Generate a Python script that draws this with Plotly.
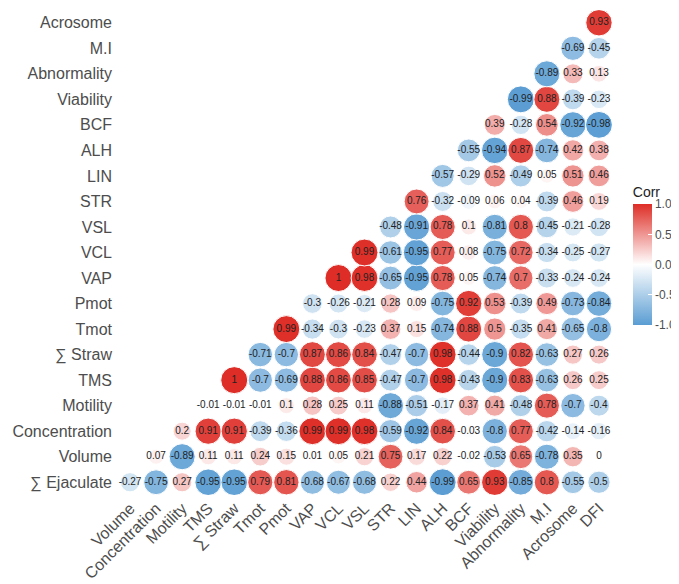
import plotly.graph_objects as go

variables = ["∑ Ejaculate", "Volume", "Concentration", "Motility", "TMS", "∑ Straw",
             "Tmot", "Pmot", "VAP", "VCL", "VSL", "STR", "LIN", "ALH", "BCF",
             "Viability", "Abnormality", "M.I", "Acrosome", "DFI"]

row_labels = variables[:-1]   # y axis, bottom to top
col_labels = variables[1:]    # x axis, left to right

# Lower-triangle correlations: each row lists values against the variables after it
r_ejaculate = [-0.27, -0.75, 0.27, -0.95, -0.95, 0.79, 0.81, -0.68, -0.67, -0.68, 0.22, 0.44, -0.99, 0.65, 0.93, -0.85, 0.8, -0.55, -0.5]
r_volume = [0.07, -0.89, 0.11, 0.11, 0.24, 0.15, 0.01, 0.05, 0.21, 0.75, 0.17, 0.22, -0.02, -0.53, 0.65, -0.78, 0.35, 0]
r_concentration = [0.2, 0.91, 0.91, -0.39, -0.36, 0.99, 0.99, 0.98, -0.59, -0.92, 0.84, -0.03, -0.8, 0.77, -0.42, -0.14, -0.16]
r_motility = [-0.01, -0.01, -0.01, 0.1, 0.28, 0.25, 0.11, -0.88, -0.51, -0.17, 0.37, 0.41, -0.48, 0.78, -0.7, -0.4]
r_tms = [1, -0.7, -0.69, 0.88, 0.86, 0.85, -0.47, -0.7, 0.98, -0.43, -0.9, 0.83, -0.63, 0.26, 0.25]
r_straw = [-0.71, -0.7, 0.87, 0.86, 0.84, -0.47, -0.7, 0.98, -0.44, -0.9, 0.82, -0.63, 0.27, 0.26]
r_tmot = [0.99, -0.34, -0.3, -0.23, 0.37, 0.15, -0.74, 0.88, 0.5, -0.35, 0.41, -0.65, -0.8]
r_pmot = [-0.3, -0.26, -0.21, 0.28, 0.09, -0.75, 0.92, 0.53, -0.39, 0.49, -0.73, -0.84]
r_vap = [1, 0.98, -0.65, -0.95, 0.78, 0.05, -0.74, 0.7, -0.33, -0.24, -0.24]
r_vcl = [0.99, -0.61, -0.95, 0.77, 0.08, -0.75, 0.72, -0.34, -0.25, -0.27]
r_vsl = [-0.48, -0.91, 0.78, 0.1, -0.81, 0.8, -0.45, -0.21, -0.28]
r_str = [0.76, -0.32, -0.09, 0.06, 0.04, -0.39, 0.46, 0.19]
r_lin = [-0.57, -0.29, 0.52, -0.49, 0.05, 0.51, 0.46]
r_alh = [-0.55, -0.94, 0.87, -0.74, 0.42, 0.38]
r_bcf = [0.39, -0.28, 0.54, -0.92, -0.98]
r_viability = [-0.99, 0.88, -0.39, -0.23]
r_abnormality = [-0.89, 0.33, 0.13]
r_mi = [-0.69, -0.45]
r_acrosome = [0.93]

rows = [r_ejaculate, r_volume, r_concentration, r_motility, r_tms, r_straw, r_tmot,
        r_pmot, r_vap, r_vcl, r_vsl, r_str, r_lin, r_alh, r_bcf, r_viability,
        r_abnormality, r_mi, r_acrosome]

legend_ticks = [1.0, 0.5, 0.0, -0.5, -1.0]

xs, ys, vals = [], [], []
for i, row in enumerate(rows):
    for k, v in enumerate(row):
        xs.append(variables[i + 1 + k])
        ys.append(variables[i])
        vals.append(v)

d_min, d_max = 10.8, 27.0
sizes = [d_min + (d_max - d_min) * abs(v) ** 0.5 for v in vals]
labels = [f"{v:g}" for v in vals]

colorscale = [[0.0, "#5A9DD3"], [0.5, "#FFFFFF"], [1.0, "#DE2D26"]]

fig = go.Figure()
fig.add_trace(go.Scatter(
    x=xs, y=ys, mode="markers+text",
    text=labels, textposition="middle center",
    textfont=dict(family="Liberation Sans, Arial, sans-serif", size=10, color="#222222"),
    marker=dict(
        size=sizes, color=vals, colorscale=colorscale, cmin=-1, cmax=1,
        line=dict(color="white", width=1), opacity=1,
        colorbar=dict(
            title=dict(text="Corr", side="top",
                       font=dict(family="Liberation Sans, Arial, sans-serif", size=14, color="#222222")),
            x=1.042, xanchor="left", xref="paper", xpad=0,
            y=0.643, yanchor="top", ypad=0,
            len=142, lenmode="pixels", thickness=19,
            outlinewidth=0,
            tickvals=legend_ticks, ticktext=[f"{t:.1f}" for t in legend_ticks],
            ticks="inside", ticklen=4, tickcolor="white",
            tickfont=dict(family="Liberation Sans, Arial, sans-serif", size=12, color="#4D4D4D"),
        ),
    ),
    hoverinfo="skip", showlegend=False,
))

axis_font = dict(family="Liberation Sans, Arial, sans-serif", size=16, color="#4D4D4D")
fig.update_layout(
    width=671, height=576,
    margin=dict(l=109, r=67, t=2, b=89, autoexpand=False),
    paper_bgcolor="white", plot_bgcolor="white",
    xaxis=dict(type="category", categoryorder="array", categoryarray=col_labels,
               range=[-0.5, len(col_labels) - 0.5], tickangle=-45, tickfont=axis_font,
               showgrid=False, zeroline=False, showline=False, ticks="", ticklen=0),
    yaxis=dict(type="category", categoryorder="array", categoryarray=row_labels,
               range=[-0.5, len(row_labels) - 0.5], tickfont=axis_font,
               ticklabelstandoff=4,
               showgrid=False, zeroline=False, showline=False, ticks="", ticklen=0),
)

fig.write_html("out.html")
